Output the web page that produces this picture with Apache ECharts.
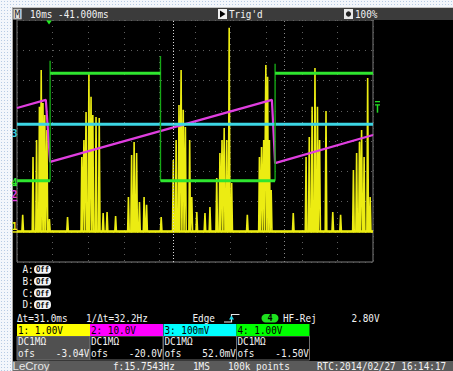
<!DOCTYPE html>
<html>
<head>
<meta charset="utf-8">
<script src="https://cdn.jsdelivr.net/npm/echarts@6/dist/echarts.min.js"></script>
<style>
  html, body { margin: 0; padding: 0; }
  body {
    width: 453px; height: 371px; overflow: hidden; position: relative;
    background-color: #f3f6fb;
    background-image: radial-gradient(#b7cbe4 0.9px, transparent 1px);
    background-size: 3px 3px;
  }
  #screen {
    position: absolute; left: 12px; top: 7px; width: 441px; height: 364px;
    background: #000; border-left: 1px solid #a8a8a8; border-top: 1px solid #c4c4c4;
    box-sizing: border-box;
  }
  #chart { position: absolute; left: 0; top: 0; width: 453px; height: 371px; }
</style>
</head>
<body>
<div id="screen"></div>
<div id="chart"></div>
<script>
// ---- Acquisition settings ----
const timePerDiv = 10;            // ms/div
const timeRange = [-50, 50];      // ms, centre of screen = 0
const trigTime = -41.0;           // trigger point, ms
const trigLevel = 2.80;           // V on channel 4
const cursorTimes = [-6.0, 25.0]; // ms

// Vertical settings per channel (ch3 in mV)
const chLabels = ['1', '2', '3', '4'];
const chVoltsPerDiv = [1.00, 10.0, 100, 1.00];
const chOffsets = [-3.04, -20.0, 52.0, -1.50];
const chColors = ['#ecec12', '#e03ee0', '#3cd6e4', '#2fe62f'];
const chBoxColors = ['#ffff00', '#ff00ff', '#00ffff', '#00ff00'];
const chBoxTitles = ['1: 1.00V', '2: 10.0V', '3: 100mV', '4: 1.00V'];
const chCoupling = ['DC1M\u03a9', 'DC1M\u03a9', 'DC1M\u03a9', 'DC1M\u03a9'];
const chOffsetTexts = ['-3.04V', '-20.0V', '52.0mV', '-1.50V'];

// Channel 1: baseline plus spikes [time ms, volts]
const ch1Base = 0.05;
const ch1Spikes = [
  [-48.4, 0.60], [-45.5, 2.51], [-44.5, 3.07], [-43.7, 4.17], [-43.2, 5.39],
  [-42.7, 4.30], [-42.2, 3.90], [-41.6, 3.40], [-40.9, 0.46], [-35.8, 0.53],
  [-31.8, 2.51], [-31.2, 3.07], [-30.6, 4.00], [-29.8, 5.32], [-29.2, 4.50],
  [-28.7, 3.90], [-27.8, 3.83], [-26.9, 3.80], [-25.8, 0.66], [-24.7, 0.69],
  [-22.3, 0.56], [-18.7, 1.19], [-17.8, 2.58], [-17.1, 3.01], [-16.4, 2.64],
  [-15.6, 1.02], [-14.3, 1.19], [-13.6, 0.93], [-9.5, 0.53], [-6.1, 2.41],
  [-5.3, 3.07], [-4.5, 4.23], [-3.9, 5.39], [-3.3, 4.07], [-2.7, 3.50],
  [-1.5, 3.07], [-0.9, 1.19], [0.5, 0.69], [2.8, 0.66], [4.2, 0.86],
  [6.1, 1.82], [7.0, 2.64], [7.6, 3.07], [8.2, 3.47], [8.9, 3.07],
  [9.6, 6.78], [10.3, 1.65], [14.7, 0.60], [18.1, 2.51], [18.7, 2.84],
  [19.3, 3.07], [19.9, 5.55], [20.4, 5.16], [20.9, 3.07], [21.4, 1.42],
  [27.6, 0.66], [31.2, 2.51], [32.1, 3.17], [32.9, 4.17], [33.7, 5.45],
  [34.4, 4.17], [35.0, 3.07], [36.8, 4.03], [38.7, 0.69], [40.9, 0.60],
  [44.5, 2.08], [45.4, 2.64], [46.2, 3.01], [46.8, 3.40], [47.5, 2.51],
  [48.5, 5.12], [49.2, 1.19]
];

// Channel 2: sawtooth corners [time ms, volts]
const ch2Points = [
  [-50, 30.9], [-41.9, 33.6], [-40.7, 13.1], [21.6, 33.6], [22.5, 12.7], [50, 22.0]
];

// Channel 3: flat level, mV
const ch3Level = 3;

// Channel 4: square wave
const ch4Low = 0.19, ch4High = 3.74;
const ch4Edges = [-40.7, -9.7, 22.5];
const ch4EdgeTops = [4.15, 4.31, 4.05];

// Readout texts
const topTimebase = '10ms -41.000ms';
const topTrig = "Trig'd";
const topZoom = '100%';
const memLabels = ['A:', 'B:', 'C:', 'D:'];
const cursorReadout = ['\u0394t=31.0ms', '1/\u0394t=32.2Hz'];
const trigReadout = ['Edge', '4', 'HF-Rej', '2.80V'];
const statusTexts = ['f:15.7543Hz', '1MS', '100k points', 'RTC:2014/02/27 16:14:17'];

// ---- Build series data ----
function ch1Data() {
  const hw = 0.22;
  const pts = [[timeRange[0], ch1Base]];
  ch1Spikes.forEach(([t, v]) => {
    pts.push([t - hw, ch1Base], [t, v], [t + hw, ch1Base]);
  });
  pts.push([timeRange[1], ch1Base]);
  return pts;
}

function ch4Segments() {
  const bounds = [timeRange[0], ...ch4Edges, timeRange[1]];
  const segs = [];
  for (let i = 0; i < bounds.length - 1; i++) {
    const lvl = i % 2 === 0 ? ch4Low : ch4High;
    segs.push([[bounds[i], lvl], [bounds[i + 1], lvl]]);
  }
  return segs;
}

function yRange(i) {
  const centre = -chOffsets[i];
  return [centre - 4 * chVoltsPerDiv[i], centre + 4 * chVoltsPerDiv[i]];
}

const GRID = { left: 17, top: 20, width: 356, height: 242 };
const chart = echarts.init(document.getElementById('chart'), null, { renderer: 'svg' });

const gridLine = { show: true, lineStyle: { color: '#5e5e5e', type: [1, 5], width: 1 } };
const hidden = { show: false };

const yAxes = chLabels.map((_, i) => ({
  type: 'value', min: yRange(i)[0], max: yRange(i)[1],
  axisLine: hidden, axisTick: hidden, axisLabel: hidden, splitLine: hidden
}));
// division axis carries the graticule
yAxes.push({
  type: 'value', min: -4, max: 4, interval: 1,
  axisLine: hidden, axisTick: hidden, axisLabel: hidden, splitLine: gridLine
});

const series = [];
// noisy ch1 baseline is drawn a little heavier than the spikes
series.push({
  name: 'C1 base', type: 'line', yAxisIndex: 0,
  data: [[timeRange[0], ch1Base], [timeRange[1], ch1Base]], showSymbol: false,
  lineStyle: { color: chColors[0], width: 2.6 }, z: 2, animation: false
});
series.push({
  name: 'C1', type: 'line', yAxisIndex: 0, data: ch1Data(), showSymbol: false,
  lineStyle: { color: chColors[0], width: 1.6 }, z: 2, animation: false
});
series.push({
  name: 'C2', type: 'line', yAxisIndex: 1, data: ch2Points, showSymbol: false,
  lineStyle: { color: chColors[1], width: 2.2 }, z: 3, animation: false
});
series.push({
  name: 'C3', type: 'line', yAxisIndex: 2,
  data: [[timeRange[0], ch3Level], [timeRange[1], ch3Level]], showSymbol: false,
  lineStyle: { color: chColors[2], width: 3 }, z: 4, animation: false,
  markLine: {
    symbol: 'none', silent: true, animation: false, label: { show: false },
    data: [
      { xAxis: cursorTimes[0], lineStyle: { color: '#d8d8d8', type: [1, 2], width: 1 } },
      { xAxis: cursorTimes[1], lineStyle: { color: '#8a8a8a', type: [1, 3], width: 1 } }
    ]
  }
});
ch4Edges.forEach((t, i) => {
  series.push({
    name: 'C4 edge', type: 'line', yAxisIndex: 3,
    data: [[t, ch4Low], [t, ch4EdgeTops[i]], [t, ch4High]],
    showSymbol: false, lineStyle: { color: '#16a816', width: 1.4 }, z: 5, animation: false
  });
});
ch4Segments().forEach(seg => {
  series.push({
    name: 'C4', type: 'line', yAxisIndex: 3, data: seg, showSymbol: false,
    lineStyle: { color: chColors[3], width: 3 }, z: 6, animation: false
  });
});

chart.setOption({
  backgroundColor: 'transparent',
  animation: false,
  grid: Object.assign({ show: true, borderColor: '#7c7c7c', borderWidth: 1, backgroundColor: 'transparent' }, GRID),
  xAxis: {
    type: 'value', min: timeRange[0], max: timeRange[1], interval: timePerDiv,
    axisLine: hidden, axisTick: hidden, axisLabel: hidden, splitLine: gridLine
  },
  yAxis: yAxes,
  series: series
});

// ---- Screen annotations ----
const MONO = '"DejaVu Sans Mono"';
function txt(text, x, y, o) {
  o = o || {};
  return {
    type: 'text', x: x, y: y, scaleX: o.sx == null ? 0.85 : o.sx, z: 20,
    style: {
      text: text, fill: o.color || '#f2f2f2',
      font: (o.weight || 'normal') + ' ' + (o.size || 11) + 'px ' + (o.family || MONO),
      textAlign: o.align || 'left', align: o.align || 'left',
      textVerticalAlign: 'middle', verticalAlign: 'middle'
    }
  };
}
function rect(x, y, w, h, fill, stroke, r) {
  return {
    type: 'rect', z: 15, shape: { x: x, y: y, width: w, height: h, r: r || 0 },
    style: { fill: fill, stroke: stroke || null, lineWidth: 1 }
  };
}

const px = t => chart.convertToPixel({ xAxisIndex: 0 }, t);
const py = (i, v) => chart.convertToPixel({ yAxisIndex: i }, v);

const g = [];
// top status bar
g.push(rect(13, 8, 440, 12, '#3b3b3b'));
g.push(rect(13.5, 9, 8, 10, '#e6e6e6', '#9a9a9a'));
g.push(txt('M', 17.5, 14.2, { color: '#303030', size: 10, align: 'center', sx: 1 }));
g.push(txt(topTimebase, 30, 14, {}));
g.push(rect(218, 9, 9, 10, '#f0f0f0'));
g.push({ type: 'polygon', z: 20, shape: { points: [[220, 10.5], [225.5, 14], [220, 17.5]] }, style: { fill: '#000' } });
g.push(txt(topTrig, 229, 14, {}));
g.push(rect(344, 9, 9, 10, '#e8e8e8'));
g.push({ type: 'circle', z: 20, shape: { cx: 348.5, cy: 14, r: 2.6 }, style: { fill: '#222' } });
g.push(txt(topZoom, 355, 14, {}));

// channel ground markers on the left
const markerDy = [-7, -8, 8, -5];
chLabels.forEach((lab, i) => {
  const y0 = py(i, 0);
  g.push(txt(lab, 14.5, y0 + markerDy[i], { color: chColors[i], size: 11, align: 'center', sx: 0.9, weight: 'bold' }));
  if (i !== 2) {
    g.push({ type: 'line', z: 20, shape: { x1: 12.5, y1: y0 - 1, x2: 17, y2: y0 - 1 }, style: { stroke: chColors[i], lineWidth: 1.5 } });
  }
});

// trigger position marker (top) and level marker (right)
const tx = px(trigTime);
g.push({ type: 'polygon', z: 20, shape: { points: [[tx - 2.8, 20.5], [tx + 2.8, 20.5], [tx, 24.5]] }, style: { fill: '#22ee22' } });
const ty = py(3, trigLevel);
g.push({ type: 'line', z: 20, shape: { x1: 375, y1: ty, x2: 380, y2: ty }, style: { stroke: '#22dd22', lineWidth: 1.3 } });
g.push({ type: 'line', z: 20, shape: { x1: 375, y1: ty + 3.2, x2: 380, y2: ty + 3.2 }, style: { stroke: '#22dd22', lineWidth: 1.3 } });
g.push({ type: 'line', z: 20, shape: { x1: 377.5, y1: ty + 3.2, x2: 377.5, y2: ty + 11 }, style: { stroke: '#22dd22', lineWidth: 1.5 } });

// memory traces
memLabels.forEach((lab, i) => {
  const y = 269.5 + i * 11.7;
  g.push(txt(lab, 22.5, y, {}));
  g.push(rect(34, y - 4.3, 17, 8.6, '#f4f4f4', null, 4));
  g.push(txt('Off', 42.5, y + 0.3, { color: '#000', size: 8, align: 'center', weight: 'bold', sx: 0.9 }));
});

// cursor and trigger readouts
g.push(txt(cursorReadout[0], 17, 318, {}));
g.push(txt(cursorReadout[1], 86, 318, {}));
g.push(txt(trigReadout[0], 192.5, 318, {}));
g.push({ type: 'polyline', z: 20, shape: { points: [[224, 322], [231.5, 322], [231.5, 314.5], [239.5, 314.5]] }, style: { stroke: '#e8e8e8', lineWidth: 1.2, fill: null } });
g.push({ type: 'polygon', z: 21, shape: { points: [[229, 319.5], [234, 319.5], [231.5, 315.5]] }, style: { fill: '#22d8e8' } });
g.push(rect(261.5, 314, 17, 8.4, '#1ee21e', null, 4.2));
g.push(txt(trigReadout[1], 270, 318.3, { color: '#000', size: 9, align: 'center', weight: 'bold', sx: 0.95 }));
g.push(txt(trigReadout[2], 283, 318, {}));
g.push(txt(trigReadout[3], 351.5, 318, {}));

// channel setting boxes
const boxX = [17, 90, 163.5, 236.5];
const boxW = 73;
chLabels.forEach((_, i) => {
  const x = boxX[i];
  g.push(rect(x, 336, boxW, 24, i === 0 ? '#505050' : '#000', '#6e6e6e'));
  g.push(rect(x, 324, boxW, 12, chBoxColors[i]));
  g.push(txt(chBoxTitles[i], x + 1, 330.2, { color: '#000' }));
  g.push(txt(chCoupling[i], x + 1, 341.6, {}));
  g.push(txt('ofs', x + 1, 353.3, {}));
  g.push(txt(chOffsetTexts[i], x + boxW - 0.5, 353.3, { align: 'right' }));
});

// bottom status bar
g.push(rect(13, 361, 440, 10, '#5a5a5a'));
g.push(rect(13, 361, 36, 10, '#6c6c6c'));
g.push(txt('LeCroy', 12.5, 366.4, { size: 11.5, family: '"Liberation Sans"', sx: 1, color: '#e6e6e6' }));
g.push(txt(statusTexts[0], 113, 366, {}));
g.push(txt(statusTexts[1], 193, 366, {}));
g.push(txt(statusTexts[2], 228, 366, {}));
g.push(txt(statusTexts[3], 317, 366, {}));

chart.setOption({ graphic: { elements: g } });
</script>
</body>
</html>
